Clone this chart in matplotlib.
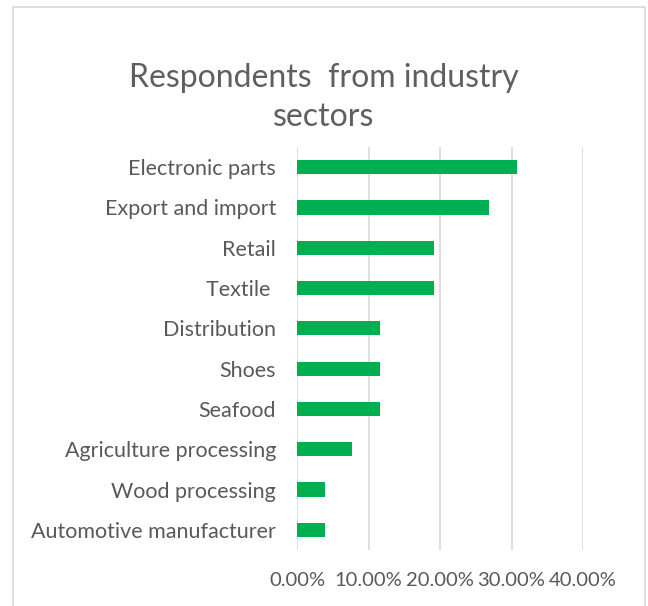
import numpy as np
import matplotlib.pyplot as plt
from matplotlib.patches import Rectangle
from matplotlib.ticker import FuncFormatter

plt.rcParams['font.family'] = ['Lato', 'DejaVu Sans']

sectors = ["Electronic parts", "Export and import", "Retail", "Textile ",
           "Distribution", "Shoes", "Seafood", "Agriculture processing",
           "Wood processing", "Automotive manufacturer"]
shares = [30.77, 26.92, 19.23, 19.23, 11.54, 11.54, 11.54, 7.69, 3.85, 3.85]
xticks = [0, 10, 20, 30, 40]

fig = plt.figure(figsize=(6.48, 6.06), dpi=100)
ax = fig.add_axes([297/648, 1-550/606, (583-297)/648, (550-147)/606])

# border of the chart area
fig.patches.append(Rectangle((13/648, -0.01), (645-13)/648, 1.01-7/606,
                             transform=fig.transFigure, fill=False,
                             edgecolor='#d9d9d9', linewidth=1.2))

ypos = np.arange(len(sectors))[::-1]
ax.barh(ypos, shares, height=0.35, color='#00b050', zorder=3)

ax.set_xlim(0, 40)
ax.set_ylim(-0.5, len(sectors) - 0.5)
ax.set_xticks(xticks)
ax.xaxis.set_major_formatter(FuncFormatter(lambda v, p: f"{v:.2f}%"))
ax.set_yticks(ypos)
ax.set_yticklabels(sectors)
ax.tick_params(axis='both', length=0, colors='#595959')
ax.tick_params(axis='y', pad=15, labelsize=15.5)
ax.tick_params(axis='x', pad=16, labelsize=14.5)
ax.grid(axis='x', color='#d9d9d9', linewidth=1.2, zorder=0)
for s in ax.spines.values():
    s.set_visible(False)

fig.text(0.5, 1-78/606, "Respondents  from industry", ha='center', va='center',
         fontsize=23, color='#5f5f5f')
fig.text(0.5, 1-117/606, "sectors", ha='center', va='center',
         fontsize=23, color='#5f5f5f')

fig.savefig("out.png", dpi=100)
